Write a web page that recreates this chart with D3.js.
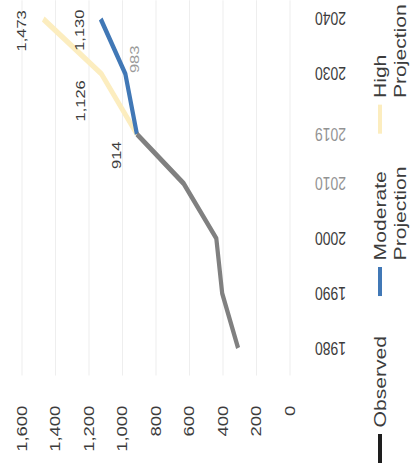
<!DOCTYPE html>
<html>
<head>
<meta charset="utf-8">
<script src="https://cdn.jsdelivr.net/npm/d3@7/dist/d3.min.js"></script>
<style>
  html, body { margin: 0; padding: 0; background: #fff; }
  svg { display: block; }
  text { font-family: "Liberation Sans", Arial, sans-serif; }
</style>
</head>
<body>
<svg id="chart" width="414" height="465"></svg>
<script>
// Observed and projected series
const observedYears = [1980, 1990, 2000, 2010, 2019];
const observedValues = [310, 405, 440, 635, 914];
const projYears = [2019, 2030, 2040];
const moderateValues = [914, 983, 1130];
const highValues = [914, 1126, 1473];
const yearTicks = [1980, 1990, 2000, 2010, 2019, 2030, 2040];
const valueTicks = [0, 200, 400, 600, 800, 1000, 1200, 1400, 1600];
const legendLabels = [["Observed"], ["Moderate", "Projection"], ["High", "Projection"]];
const colors = { observed: "#808080", moderate: "#4178b6", high: "#fcedbf" };

// Chart is laid out in its own frame, then turned on its side
const W = 352, H = 414;
const svg = d3.select("#chart");
const g = svg.append("g").attr("transform", "translate(0,465) scale(1,1.32) rotate(-90)");

const x = d3.scaleLinear().domain([1980, 2040]).range([88.6, 337.9]);
const y = d3.scaleLinear().domain([0, 1600]).range([290, 22]);

// Gridlines
g.append("g").selectAll("line").data(valueTicks).join("line")
  .attr("x1", x(1975)).attr("x2", W)
  .attr("y1", d => y(d)).attr("y2", d => y(d))
  .attr("stroke", "#eeeeee").attr("stroke-width", 1);

// Value axis labels
const fmt = d3.format(",");
g.append("g").selectAll("text").data(valueTicks).join("text")
  .attr("x", 45).attr("y", d => y(d)).attr("dy", "0.35em")
  .attr("text-anchor", "end").attr("font-size", 14).attr("fill", "#3c3c3c")
  .text(d => fmt(d));

// Year labels, rotated
g.append("g").selectAll("text").data(yearTicks).join("text")
  .attr("transform", d => `translate(${x(d)},315) rotate(-90)`)
  .attr("dy", "0.35em").attr("text-anchor", "end")
  .attr("font-size", 14)
  .attr("fill", d => (d === 2010 || d === 2019) ? "#939393" : "#3c3c3c")
  .text(d => d);

const line = d3.line().x(d => x(d[0])).y(d => y(d[1]));

g.append("path").datum(d3.zip(projYears, highValues))
  .attr("d", line).attr("fill", "none")
  .attr("stroke", colors.high).attr("stroke-width", 4.5).attr("stroke-linejoin", "round");
g.append("path").datum(d3.zip(projYears, moderateValues))
  .attr("d", line).attr("fill", "none")
  .attr("stroke", colors.moderate).attr("stroke-width", 4.2).attr("stroke-linejoin", "round");
g.append("path").datum(d3.zip(observedYears, observedValues))
  .attr("d", line).attr("fill", "none")
  .attr("stroke", colors.observed).attr("stroke-width", 4.2).attr("stroke-linejoin", "round");

// Value labels
const labelPoints = [
  { year: 2040, value: highValues[2], dx: -9, dy: -22, fill: "#3c3c3c" },
  { year: 2040, value: moderateValues[2], dx: -8.5, dy: -21, fill: "#3c3c3c" },
  { year: 2030, value: highValues[1], dx: -20.5, dy: -21, fill: "#3c3c3c" },
  { year: 2030, value: moderateValues[1], dx: 11, dy: 9, fill: "#9a9a9a" },
  { year: 2019, value: observedValues[4], dx: -16, dy: -20, fill: "#3c3c3c" }
];
g.append("g").selectAll("text").data(labelPoints).join("text")
  .attr("x", d => x(d.year) + d.dx).attr("y", d => y(d.value) + d.dy)
  .attr("dy", "0.35em").attr("text-anchor", "middle")
  .attr("font-size", 12.5).attr("fill", d => d.fill)
  .text(d => fmt(d.value));

// Legend
const legendX = [1.5, 128, 251];
const legendColors = ["#1e1e1e", colors.moderate, colors.high];
const leg = g.append("g").selectAll("g").data(legendLabels).join("g")
  .attr("transform", (d, i) => `translate(${legendX[i]},380)`);
leg.append("line").attr("x1", 0).attr("x2", 22).attr("y1", 0).attr("y2", 0)
  .attr("stroke", (d, i) => legendColors[i]).attr("stroke-width", 4);
leg.append("text").attr("x", 27).attr("font-size", 16).attr("fill", "#3c3c3c")
  .selectAll("tspan").data(d => d).join("tspan")
  .attr("x", 27).attr("y", (d, i) => i * 20).attr("dy", "0.35em")
  .text(d => d);
</script>
</body>
</html>
